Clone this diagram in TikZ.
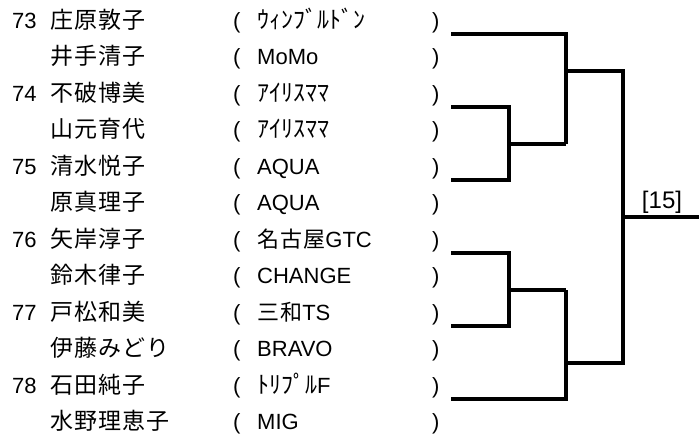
\documentclass[tikz,border=0pt]{standalone}
\usepackage{fontspec}
\setmainfont{Liberation Sans}
\newfontfamily\jpfont[LetterSpace=5]{Noto Sans CJK JP}
\newfontfamily\kanafont[Scale=1.09]{Noto Sans CJK JP}
\tikzset{
  txt/.style={anchor=base west,inner sep=0pt,font=\fontsize{22}{22}\selectfont},
  jtxt/.style={txt,font=\jpfont\fontsize{23}{23}\selectfont},
  brk/.style={line width=3.2pt}
}
\begin{document}
\begin{tikzpicture}[x=1pt,y=-1pt]
\useasboundingbox (0,0) rectangle (699,434);
% players and clubs
\foreach \nm/\tm [count=\i] in {庄原敦子/{\kanafont ｳｨﾝﾌﾞﾙﾄﾞﾝ},井手清子/MoMo,
    不破博美/{\kanafont ｱｲﾘｽﾏﾏ},山元育代/{\kanafont ｱｲﾘｽﾏﾏ},清水悦子/AQUA,原真理子/AQUA,
    矢岸淳子/{{\jpfont 名古屋}GTC},鈴木律子/CHANGE,戸松和美/{{\jpfont 三和}TS},
    伊藤みどり/BRAVO,石田純子/{{\kanafont ﾄﾘﾌﾟﾙ}F},水野理恵子/MIG}{
  \node[jtxt] (name\i) at (50,{28+36.5*(\i-1)}) {\nm};
  \node[txt] (lp\i) at (233,{28+36.5*(\i-1)}) {(};
  \node[txt] (club\i) at (257,{28+36.5*(\i-1)}) {\tm};
  \node[txt] (rp\i) at (432,{28+36.5*(\i-1)}) {)};
}
\foreach \n [count=\k] in {73,...,78}
  \node[txt] (num\n) at (12,{28+73*(\k-1)}) {\n};
% bracket
\foreach \k in {1,...,6}
  \coordinate (e\k) at (451,{34+73*(\k-1)});
\coordinate (q1) at (509,144);
\coordinate (r1) at (566,144);
\coordinate (s1) at (566,71);
\coordinate (q2) at (509,290);
\coordinate (r2) at (566,290);
\coordinate (s2) at (566,363);
\coordinate (f1) at (623,71);
\coordinate (f2) at (623,363);
\coordinate (w) at (623,217);
\coordinate (win) at (699,217);
\draw[brk] (e2) -| (q1) |- (e3);
\draw[brk] (q1) -- (r1);
\draw[brk] (e1) -| (r1);
\draw[brk] (e4) -| (q2) |- (e5);
\draw[brk] (q2) -- (r2);
\draw[brk] (e6) -| (r2);
\draw[brk] (s1) -- (f1) -- (f2) -- (s2);
\draw[brk] (w) -- (win);
\node[txt,anchor=base,font=\fontsize{24}{24}\selectfont] (round) at (662,208) {[15]};
\end{tikzpicture}
\end{document}
